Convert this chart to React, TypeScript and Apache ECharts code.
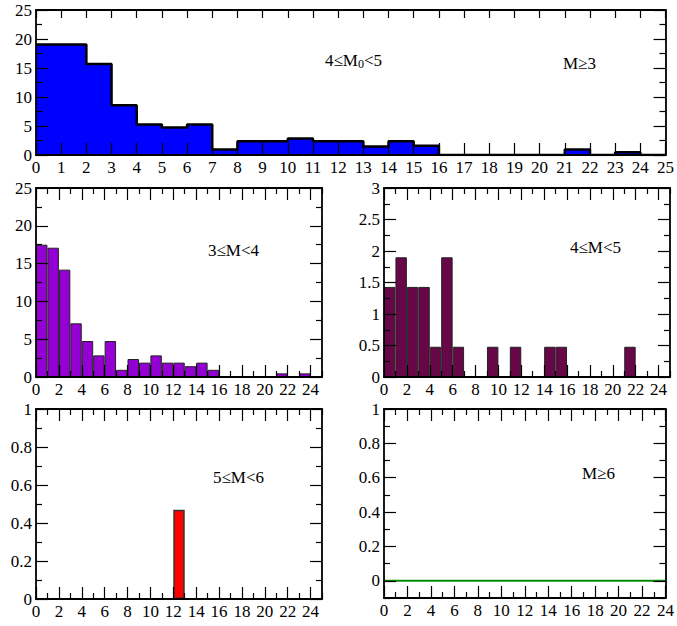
import React, { useEffect, useRef } from 'react';
import * as echarts from 'echarts';

// ---------------- data ----------------
const binStarts = ['0','1','2','3','4','5','6','7','8','9','10','11','12','13','14','15','16','17','18','19','20','21','22','23','24'];

// 4≤M0<5, M≥3 (top panel)
const allValues = [19.05, 19.05, 15.7, 8.57, 5.24, 4.76, 5.24, 0.95, 2.38, 2.38, 2.86, 2.38, 2.38, 1.48, 2.38, 1.6, 0, 0, 0, 0, 0, 0.95, 0, 0.48, 0];
// 3≤M<4
const m34Values = [17.5, 17.1, 14.2, 7.1, 4.76, 2.86, 4.76, 0.95, 2.38, 1.9, 2.86, 1.9, 1.9, 1.43, 1.9, 0.95, 0, 0, 0, 0, 0, 0.48, 0, 0.48, 0];
// 4≤M<5
const m45Values = [1.43, 1.9, 1.43, 1.43, 0.48, 1.9, 0.48, 0, 0, 0.48, 0, 0.48, 0, 0, 0.48, 0.48, 0, 0, 0, 0, 0, 0.48, 0, 0, 0];
// 5≤M<6
const m56Values = [0, 0, 0, 0, 0, 0, 0, 0, 0, 0, 0, 0, 0.47, 0, 0, 0, 0, 0, 0, 0, 0, 0, 0, 0, 0];
// M≥6
const m6X = [0, 24];
const m6Values = [0, 0];

// tick values
const xTicks25 = [0,1,2,3,4,5,6,7,8,9,10,11,12,13,14,15,16,17,18,19,20,21,22,23,24,25];
const xTicks24 = [0,1,2,3,4,5,6,7,8,9,10,11,12,13,14,15,16,17,18,19,20,21,22,23,24];
const yTicks25 = [0, 2.5, 5, 7.5, 10, 12.5, 15, 17.5, 20, 22.5, 25];
const yTicks3 = [0, 0.25, 0.5, 0.75, 1, 1.25, 1.5, 1.75, 2, 2.25, 2.5, 2.75, 3];
const yTicks1 = [0, 0.1, 0.2, 0.3, 0.4, 0.5, 0.6, 0.7, 0.8, 0.9, 1];
const yTicksNeg = [-0.1, 0, 0.1, 0.2, 0.3, 0.4, 0.5, 0.6, 0.7, 0.8, 0.9, 1];

const FONT = 'Liberation Serif';

const GRIDS = [
  { left: 36, top: 10, width: 632, height: 145 },
  { left: 36, top: 188, width: 286, height: 189 },
  { left: 384, top: 188, width: 286, height: 189 },
  { left: 36, top: 409, width: 286, height: 190 },
  { left: 384, top: 409, width: 286, height: 189 },
];

function isMajor(v: number, step: number) {
  const r = v / step;
  return Math.abs(r - Math.round(r)) < 1e-6;
}

function tickAxis(gridIndex: number, position: string, ticks: number[], flags: boolean[], length: number, showLabels: boolean, showLine: boolean) {
  return {
    type: 'category',
    gridIndex,
    position,
    data: ticks.map((t) => String(t)),
    boundaryGap: false,
    z: 6,
    axisLine: { show: showLine, onZero: false, lineStyle: { color: '#000', width: 1.8 } },
    axisTick: { show: true, inside: true, length, interval: (i: number) => flags[i], lineStyle: { color: '#000', width: 1.2 } },
    axisLabel: {
      show: showLabels,
      interval: (i: number) => flags[i],
      color: '#000',
      fontFamily: FONT,
      fontSize: 17,
      margin: 4,
      formatter: (v: string) => '{t|' + v + '}',
      rich: { t: { fontFamily: FONT, fontSize: 17, color: '#000' } },
    },
    splitLine: { show: false },
    splitArea: { show: false },
  };
}

function buildOption() {
  const xAxes: any[] = [];
  const yAxes: any[] = [];
  const series: any[] = [];

  const addFrame = (g: number, xt: number[], xStep: number, topLen: number, yt: number[], yStep: number) => {
    const xf = xt.map((v) => isMajor(v, xStep));
    const xm = xf.map((f) => !f);
    const yf = yt.map((v) => isMajor(v, yStep) && v >= 0);
    const ym = yf.map((f) => !f);
    xAxes.push(tickAxis(g, 'bottom', xt, xf, 12, true, true));
    xAxes.push(tickAxis(g, 'bottom', xt, xm, 6, false, false));
    xAxes.push(tickAxis(g, 'top', xt, xf, topLen, false, true));
    xAxes.push(tickAxis(g, 'top', xt, xm, 6, false, false));
    yAxes.push(tickAxis(g, 'left', yt, yf, 12, true, true));
    yAxes.push(tickAxis(g, 'left', yt, ym, 6, false, false));
    yAxes.push(tickAxis(g, 'right', yt, yf, 12, false, true));
    yAxes.push(tickAxis(g, 'right', yt, ym, 6, false, false));
  };

  const addCat = (g: number) => {
    xAxes.push({ type: 'category', gridIndex: g, data: binStarts, boundaryGap: true, show: false });
    return xAxes.length - 1;
  };
  const addXVal = (g: number, max: number) => {
    xAxes.push({ type: 'value', gridIndex: g, min: 0, max, show: false });
    return xAxes.length - 1;
  };
  const addYVal = (g: number, min: number, max: number) => {
    yAxes.push({ type: 'value', gridIndex: g, min, max, show: false });
    return yAxes.length - 1;
  };

  const bar = (xi: number, yi: number, data: number[], color: string, border: string, bw: number) => ({
    type: 'bar', xAxisIndex: xi, yAxisIndex: yi, data, barCategoryGap: '0%', z: 2,
    itemStyle: { color, borderColor: border, borderWidth: bw },
  });

  // panel 0: filled step histogram
  addFrame(0, xTicks25, 1, 8, yTicks25, 5);
  {
    const xv = addXVal(0, 25);
    const yv = addYVal(0, 0, 25);
    const stepData = allValues.map((v, i) => [i, v]);
    stepData.push([allValues.length, allValues[allValues.length - 1]]);
    series.push({
      type: 'line', xAxisIndex: xv, yAxisIndex: yv, data: stepData, step: 'end', symbol: 'none', z: 3,
      lineStyle: { color: '#000', width: 2.5 },
      areaStyle: { color: '#0000ff', opacity: 1, origin: 'start' },
    });
  }
  // panel 1
  addFrame(1, xTicks25, 2, 12, yTicks25, 5);
  {
    const xc = addCat(1);
    const yv = addYVal(1, 0, 25);
    series.push(bar(xc, yv, m34Values, '#9400d3', '#222', 1));
  }
  // panel 2
  addFrame(2, xTicks25, 2, 12, yTicks3, 0.5);
  {
    const xc = addCat(2);
    const yv = addYVal(2, 0, 3);
    series.push(bar(xc, yv, m45Values, '#670748', '#222', 1));
  }
  // panel 3
  addFrame(3, xTicks25, 2, 12, yTicks1, 0.2);
  {
    const xc = addCat(3);
    const yv = addYVal(3, 0, 1);
    series.push(bar(xc, yv, m56Values, '#ff0000', '#333', 1.5));
  }
  // panel 4
  addFrame(4, xTicks24, 2, 12, yTicksNeg, 0.2);
  {
    const xv = addXVal(4, 24);
    const yv = addYVal(4, -0.1, 1);
    series.push({
      type: 'line', xAxisIndex: xv, yAxisIndex: yv, data: m6X.map((x, i) => [x, m6Values[i]]), symbol: 'none', z: 3,
      lineStyle: { color: '#008b00', width: 2 },
    });
  }

  const label = (x: number, y: number, text: string) => ({
    type: 'text', x, y, z: 10,
    style: { text, fontFamily: FONT, fontSize: 17, fill: '#000', verticalAlign: 'middle', align: 'left' },
  });

  return {
    animation: false,
    backgroundColor: '#fff',
    textStyle: { fontFamily: FONT, fontSize: 17, color: '#000' },
    grid: GRIDS.map((g) => ({ ...g, containLabel: false })),
    xAxis: xAxes,
    yAxis: yAxes,
    series,
    graphic: [
      {
        type: 'text', x: 325, y: 60, z: 10,
        style: {
          text: '{n|4≤M}{s|0}{n|<5}',
          verticalAlign: 'middle', align: 'left',
          rich: {
            n: { fontFamily: FONT, fontSize: 17, fill: '#000', lineHeight: 20 },
            s: { fontFamily: FONT, fontSize: 12, fill: '#000', lineHeight: 12, verticalAlign: 'bottom' },
          },
        },
      },
      label(563, 63, 'M≥3'),
      label(208, 250, '3≤M<4'),
      label(570, 247, '4≤M<5'),
      label(213, 477, '5≤M<6'),
      label(582, 473, 'M≥6'),
    ],
  };
}

export default function App() {
  const ref = useRef<HTMLDivElement>(null);
  useEffect(() => {
    if (!ref.current) return;
    const chart = echarts.init(ref.current, undefined, { renderer: 'svg' });
    chart.setOption(buildOption() as any);
    return () => chart.dispose();
  }, []);
  return <div ref={ref} style={{ position: 'fixed', left: 0, top: 0, width: 677, height: 626, background: '#fff' }} />;
}
